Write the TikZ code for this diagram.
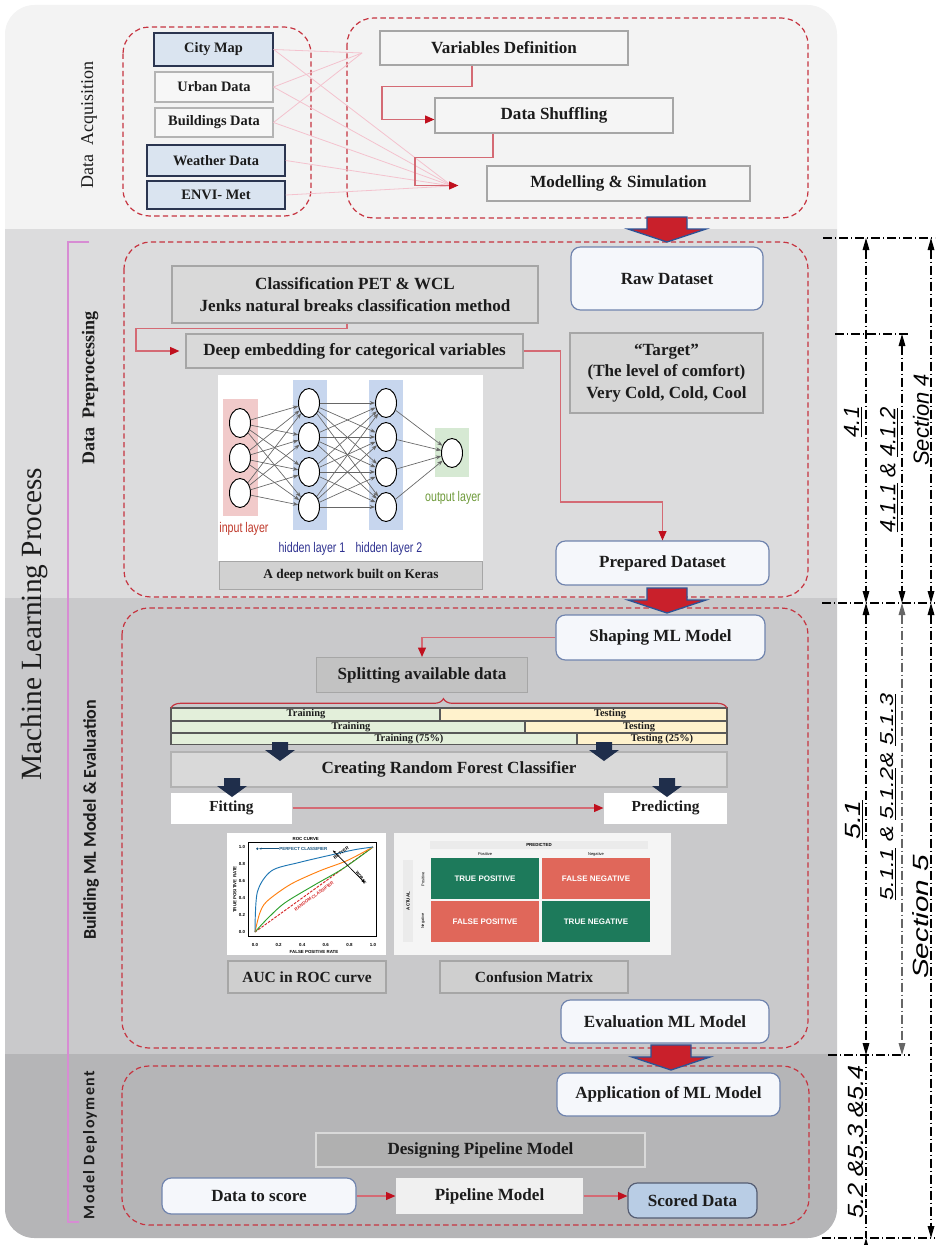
\documentclass[tikz,border=0pt]{standalone}
\usepackage{graphicx}
\usepackage{fontspec}
\setmainfont{Liberation Serif}
\setsansfont{Liberation Sans}
\newfontfamily\calibsf{Carlito}
\newfontfamily\narrowsf[FakeStretch=0.76]{Liberation Sans}
\usetikzlibrary{arrows.meta,shapes.geometric,decorations.pathreplacing}

\definecolor{bgacq}{HTML}{F3F3F3}
\definecolor{bgprep}{HTML}{DCDCDD}
\definecolor{bgbuild}{HTML}{C9C9CB}
\definecolor{bgdeploy}{HTML}{B5B5B7}
\definecolor{dashred}{HTML}{C63440}
\definecolor{linkred}{HTML}{D46A74}
\definecolor{tipred}{HTML}{C0101E}
\definecolor{fanpink}{HTML}{F4C2CE}
\definecolor{navyedge}{HTML}{2B3550}
\definecolor{keyfill}{HTML}{DAE4F0}
\definecolor{srcedge}{HTML}{B4B4B4}
\definecolor{boxedge}{HTML}{A6A6A6}
\definecolor{roundedge}{HTML}{7084AE}
\definecolor{roundfill}{HTML}{F5F7FB}
\definecolor{arrowred}{HTML}{C9202B}
\definecolor{arrowblue}{HTML}{2E5395}
\definecolor{navyarrow}{HTML}{1F2E4B}
\definecolor{bracketpink}{HTML}{D78CD3}
\definecolor{trainfill}{HTML}{E3EFDA}
\definecolor{testfill}{HTML}{FFF2CC}
\definecolor{inputpink}{HTML}{F1CACA}
\definecolor{hiddenblue}{HTML}{C7D6EE}
\definecolor{outputgreen}{HTML}{D6E9D3}
\definecolor{inputred}{HTML}{C0392B}
\definecolor{hiddennavy}{HTML}{2F3290}
\definecolor{outputolive}{HTML}{6E9A3A}
\definecolor{cmgreen}{HTML}{1D7A5B}
\definecolor{cmred}{HTML}{E0675A}
\definecolor{scoredfill}{HTML}{B9CDE5}
\definecolor{inkgray}{HTML}{1C1C1C}
\definecolor{rocblue}{HTML}{1F77B4}
\definecolor{rocorange}{HTML}{FF7F0E}
\definecolor{rocgreen}{HTML}{2CA02C}
\definecolor{rocred}{HTML}{D62728}

\tikzset{
  wh/.style 2 args={minimum width=#1*0.75pt, minimum height=#2*0.75pt},
  srcbox/.style={draw=srcedge, fill=white!97!black, line width=0.8, inner sep=0,
    text=inkgray, font=\fontsize{10.8}{12}\selectfont\bfseries},
  keybox/.style={srcbox, draw=navyedge, fill=keyfill, line width=1.1},
  stepbox/.style={draw=boxedge, line width=0.9, inner sep=0, align=center, text=inkgray,
    font=\fontsize{12.8}{16}\selectfont\bfseries},
  databox/.style={stepbox, draw=roundedge, fill=roundfill, rounded corners=7},
  dashframe/.style={draw=dashred, line width=0.9, dash pattern=on 4pt off 2.5pt, rounded corners=20},
  flow/.style={draw=linkred, line width=0.8, -{Triangle[length=7pt,width=6pt,color=tipred]}},
  fanline/.style={draw=fanpink, line width=0.6},
  bigarrow/.style={fill=arrowred, draw=arrowblue, line width=1},
  neuron/.style={ellipse, draw, fill=white, line width=0.7, inner sep=0, wh={21}{29}},
  synapse/.style={draw=black!60, line width=0.5, -{Stealth[length=4pt,width=3pt]}},
  bar/.style={draw=black!65, line width=0.9},
  bartext/.style={inner sep=0, text=inkgray, font=\fontsize{7.8}{8}\selectfont\bfseries},
  sidelabel/.style={rotate=90, inner sep=0, text=inkgray},
  dimline/.style={line width=0.8, dash pattern=on 7pt off 2pt on 1pt off 2pt},
  dimtips/.style={{Triangle[length=9pt,width=5pt]}-{Triangle[length=9pt,width=5pt]}},
  dimtext/.style={rotate=90, inner sep=0, font=\sffamily\itshape\fontsize{16.5}{18}\selectfont},
  rocnote/.style={inner sep=0, font=\sffamily\bfseries\fontsize{3.3}{3.5}\selectfont},
  cmcell/.style={inner sep=0, wh={108}{41}, text=white, font=\sffamily\bfseries\fontsize{6}{7}\selectfont},
}

\begin{document}
\begin{tikzpicture}[x=0.75pt,y=0.75pt,yscale=-1]
\useasboundingbox (0,0) rectangle (935,1245);

%Shape: background bands
\begin{scope}
  \clip[rounded corners=22] (5,5) rectangle (837,1238);
  \fill[bgacq] (0,0) rectangle (840,229);
  \fill[bgprep] (0,229) rectangle (840,598);
  \fill[bgbuild] (0,598) rectangle (840,1054);
  \fill[bgdeploy] (0,1054) rectangle (840,1240);
\end{scope}

%Shape: dashed frames
\draw[dashframe] (123,27) rectangle (311,216);
\draw[dashframe] (347,18) rectangle (808,218);
\draw[dashframe] (124,242) rectangle (808,597);
\draw[dashframe] (122,608) rectangle (808,1048);
\draw[dashframe] (122,1066) rectangle (809,1225);

% Text Node: side titles
\node[sidelabel, font=\fontsize{22}{22}\selectfont] (mlp) at (34,624) {Machine Learning Process};
\node[sidelabel, font=\fontsize{13.5}{14}\selectfont] (acq) at (89,125) {Data\ \ Acquisition};
\node[sidelabel, font=\fontsize{13.5}{14}\selectfont\bfseries] (prep) at (90,388) {Data\ \ Preprocessing};
\node[sidelabel, font=\calibsf\fontsize{13.5}{14}\selectfont\bfseries] (build) at (91,820) {Building ML Model \& Evaluation};
\node[sidelabel, font=\calibsf\addfontfeature{LetterSpace=9}\fontsize{12}{14}\selectfont\bfseries] (deploy) at (90,1145) {Model Deployment};

%Straight Lines: pink bracket
\draw[bracketpink, line width=1.2] (89,242) -- (68,242) -- (68,1222) -- (79,1222);

% Data acquisition
\node[keybox, wh={119}{33}] (citymap) at (213.5,49.5) {City Map};
\node[srcbox, wh={118}{30}] (urban) at (214,87) {Urban Data};
\node[srcbox, wh={118}{29}] (buildings) at (214,122.5) {Buildings Data};
\node[keybox, wh={138}{31}] (weather) at (216,160.5) {Weather Data};
\node[keybox, wh={138}{28}] (envimet) at (216,195) {ENVI- Met};

\node[stepbox, fill=white!96!black, wh={248}{34}] (vardef) at (504,48) {Variables Definition};
\node[stepbox, fill=white!96!black, wh={238}{35}] (shuffle) at (554,115.5) {Data Shuffling};
\node[stepbox, fill=white!96!black, wh={263}{35}] (modelling) at (618.5,183.5) {Modelling \& Simulation};

%Straight Lines: sources fanning out
\coordinate (fanA) at (362,53);
\coordinate (fanB) at (452,186);
\foreach \s in {citymap,urban,buildings} \draw[fanline] (\s.east) -- (fanA);
\foreach \s in {citymap,urban,buildings,weather,envimet} \draw[fanline] (\s.east) -- (fanB);

\draw[flow] ([shift={(-32,0)}]vardef.south) -- ++(0,21) -- ++(-90,0) |- ([shift={(0,4)}]shuffle.west);
\draw[flow] ([shift={(-61,0)}]shuffle.south) -- ++(0,24) -- ++(-78,0) |- ([shift={(-28,2)}]modelling.west);

% Data preprocessing
\node[stepbox, fill=black!15, wh={366}{57}] (classif) at (355,294.5) {Classification PET \& WCL\\Jenks natural breaks classification method};
\node[stepbox, fill=black!15, wh={337}{34}] (deepemb) at (354.5,351) {Deep embedding for categorical variables};
\node[databox, wh={192}{63}] (rawdata) at (667,278.5) {Raw Dataset};
\node[stepbox, fill=black!16, wh={193}{80}] (target) at (666.5,373) {“Target”\\(The level of comfort)\\Very Cold, Cold, Cool};
\node[databox, wh={213}{44}] (prepared) at (662.5,563) {Prepared Dataset};

\draw[flow] ([shift={(-8,0)}]classif.south) -- ++(0,5) -- ++(-211,0) |- ([shift={(-6,0)}]deepemb.west);
\draw[flow] (deepemb.east) -- ++(37,0) -- ++(0,151) -| (prepared.north);

%Shape: deep network panel
\fill[white] (218,375) rectangle (483,561);
\fill[inputpink] (223,399) rectangle (258,516);
\fill[hiddenblue] (293,380) rectangle (327,530);
\fill[hiddenblue] (369,380) rectangle (403,530);
\fill[outputgreen] (435,428) rectangle (469,477);
\foreach \i/\y in {1/423,2/458,3/493} \node[neuron] (in\i) at (240,\y) {};
\foreach \i/\y in {1/403,2/437,3/472,4/507} {
  \node[neuron] (ha\i) at (309,\y) {};
  \node[neuron] (hb\i) at (386,\y) {};
}
\node[neuron] (out) at (452,453) {};
\foreach \i in {1,2,3} \foreach \j in {1,...,4} \draw[synapse] (in\i) -- (ha\j);
\foreach \i in {1,...,4} \foreach \j in {1,...,4} \draw[synapse] (ha\i) -- (hb\j);
\foreach \i in {1,...,4} \draw[synapse] (hb\i) -- (out);
\node[inner sep=0, text=inputred, font=\narrowsf\fontsize{10.5}{12}\selectfont] (inlbl) at (244,529) {input layer};
\node[inner sep=0, text=hiddennavy, font=\narrowsf\fontsize{10.5}{12}\selectfont] (halbl) at (312,549) {hidden layer 1};
\node[inner sep=0, text=hiddennavy, font=\narrowsf\fontsize{10.5}{12}\selectfont] (hblbl) at (389,549) {hidden layer 2};
\node[inner sep=0, text=outputolive, font=\narrowsf\fontsize{10.5}{12}\selectfont] (outlbl) at (453,498) {output layer};
\node[stepbox, fill=black!18, wh={263}{28}, font=\fontsize{10}{12}\selectfont\bfseries] (keras) at (351,575.5) {A deep network built on Keras};

% Building ML model
\node[databox, wh={209}{45}] (shaping) at (660.5,637.5) {Shaping ML Model};
\node[stepbox, fill=black!24, wh={211}{35}] (splitting) at (422,675) {Splitting available data};
\draw[flow] (shaping.west) -| (splitting.north);

%Shape: train/test splits
\foreach \y/\h/\a in {708/13/440, 721/12/525, 733/11.5/577} {
  \draw[bar, fill=trainfill] (171,\y) rectangle (\a,\y+\h);
  \draw[bar, fill=testfill] (\a,\y) rectangle (727,\y+\h);
}
\node[bartext] (trainA) at (306,714.5) {Training};
\node[bartext] (testA) at (610,714.5) {Testing};
\node[bartext] (trainB) at (351,727) {Training};
\node[bartext] (testB) at (639,727) {Testing};
\node[bartext] (trainC) at (409,739) {Training (75\%)};
\node[bartext] (testC) at (662,739) {Testing (25\%)};
\draw[dashred, line width=0.9, decorate, decoration={brace, amplitude=7pt, aspect=0.49}] (171,708) -- (727,708);

\node[stepbox, fill=black!15, draw=black!30, wh={556}{35}] (forest) at (449,769.5) {Creating Random Forest Classifier};
\node[stepbox, fill=white, draw=none, wh={121}{31}, font=\fontsize{11.5}{14}\selectfont\bfseries] (fitting) at (231.5,808) {Fitting};
\node[stepbox, fill=white, draw=none, wh={123}{31}, font=\fontsize{11.5}{14}\selectfont\bfseries] (predicting) at (665.5,808) {Predicting};
\draw[flow] (fitting) -- (predicting);

%Shape: small dark arrows
\foreach \x/\y in {280/742, 604/742, 232/778, 667/778}
  \fill[navyarrow] (\x-8,\y) -- (\x+8,\y) -- (\x+8,\y+8) -- (\x+15,\y+8) -- (\x,\y+19) -- (\x-15,\y+8) -- (\x-8,\y+8) -- cycle;

%Shape: ROC curve
\fill[white] (227,833) rectangle (386,955);
\begin{scope}[shift={(255,932)}, xscale=118, yscale=-85]
  \draw[line width=0.5] (-0.06,-0.05) rectangle (1.03,1.05);
  \foreach \t in {0.0,0.2,0.4,0.6,0.8,1.0} {
    \node[rocnote] at (-0.11,\t) {\t};
    \node[rocnote] at (\t,-0.15) {\t};
  }
  \node[rocnote] (roctitle) at (0.43,1.1) {ROC CURVE};
  \node[rocnote] (rocx) at (0.5,-0.24) {FALSE POSITIVE RATE};
  \node[rocnote, rotate=90] (rocy) at (-0.17,0.5) {TRUE POSITIVE RATE};
  \draw[rocred, line width=0.7, dash pattern=on 2pt off 1pt] (0,0) -- (1,1);
  \draw[rocgreen, line width=0.7] plot[smooth] coordinates {(0,0) (0.1,0.15) (0.25,0.34) (0.5,0.55) (0.75,0.75) (1,1)};
  \draw[rocorange, line width=0.7] plot[smooth] coordinates {(0,0) (0.04,0.22) (0.1,0.36) (0.3,0.56) (0.55,0.72) (0.78,0.84) (1,1)};
  \draw[rocblue, line width=0.7] plot[smooth] coordinates {(0,0) (0.02,0.47) (0.14,0.72) (0.38,0.82) (0.72,0.93) (0.85,0.97) (1,1)};
  \node[circle, fill=rocblue!70!black, inner sep=0.7pt] (perfect) at (0.02,0.98) {};
  \node[rocnote, text=rocblue!70!black] (perfectlbl) at (0.41,0.98) {PERFECT CLASSIFIER};
  \draw[rocblue!70!black, line width=0.5, -{Stealth[length=2pt]}] (perfectlbl.west) -- (perfect.east);
  \draw[line width=0.5, {Stealth[length=2.5pt]}-{Stealth[length=2.5pt]}] (0.66,0.96) -- (0.93,0.58);
  \node[rocnote, rotate=35] (better) at (0.73,0.93) {BETTER};
  \node[rocnote, rotate=-55, font=\sffamily\bfseries\fontsize{3}{3}\selectfont] (worse) at (0.9,0.64) {WORSE};
  \node[rocnote, text=rocred, rotate=36] (randomlbl) at (0.5,0.42) {RANDOM CLASSIFIER};
\end{scope}

%Shape: confusion matrix
\fill[white!96!black] (394,833) rectangle (671,955);
\fill[black!8] (430,841) rectangle (648,849);
\node[rocnote] (predicted) at (539,845) {PREDICTED};
\node[rocnote, font=\sffamily\fontsize{3}{3}\selectfont] (colpos) at (485,854) {Positive};
\node[rocnote, font=\sffamily\fontsize{3}{3}\selectfont] (colneg) at (596,854) {Negative};
\fill[black!8] (403,860) rectangle (413,942);
\node[rocnote, rotate=90] (actual) at (408,901) {ACTUAL};
\node[rocnote, rotate=90, font=\sffamily\fontsize{3}{3}\selectfont] (rowpos) at (423,879) {Positive};
\node[rocnote, rotate=90, font=\sffamily\fontsize{3}{3}\selectfont] (rowneg) at (423,921) {Negative};
\node[cmcell, fill=cmgreen] (tp) at (485,878.5) {TRUE POSITIVE};
\node[cmcell, fill=cmred] (fn) at (596,878.5) {FALSE NEGATIVE};
\node[cmcell, fill=cmred] (fp) at (485,921.5) {FALSE POSITIVE};
\node[cmcell, fill=cmgreen] (tn) at (596,921.5) {TRUE NEGATIVE};

\node[stepbox, fill=black!19, wh={158}{32}, font=\fontsize{11.6}{14}\selectfont\bfseries] (auc) at (307,977) {AUC in ROC curve};
\node[stepbox, fill=black!19, wh={188}{32}, font=\fontsize{11.6}{14}\selectfont\bfseries] (cmcap) at (534,977) {Confusion Matrix};
\node[databox, wh={208}{43}] (evaluation) at (665,1021.5) {Evaluation ML Model};

% Model deployment
\node[databox, wh={223}{43}] (application) at (668.5,1094.5) {Application of ML Model};
\node[stepbox, fill=black!31, draw=black!15, wh={329}{34}] (designing) at (480.5,1150) {Designing Pipeline Model};
\node[databox, wh={194}{36}] (datascore) at (259,1196) {Data to score};
\node[stepbox, fill=black!6, draw=none, wh={187}{36}] (pipeline) at (489.5,1196) {Pipeline Model};
\node[databox, fill=scoredfill, draw=navyedge!80, wh={129}{35}] (scored) at (692.5,1200.5) {Scored Data};
\draw[flow] (datascore.east) -- (pipeline.west);
\draw[flow] (pipeline.east) -- (pipeline.east -| scored.west);

%Shape: block arrows between stages
\foreach \x/\y in {667/217, 667/588, 671/1045}
  \draw[bigarrow] (\x-20,\y) -- (\x+20,\y) -- (\x+20,\y+12) -- (\x+39,\y+12) -- (\x,\y+25) -- (\x-39,\y+12) -- (\x-20,\y+12) -- cycle;

%Straight Lines: section dimensions
\draw[dimline] (823,238) -- (935,238);
\draw[dimline] (835,334) -- (910,334);
\draw[dimline] (822,603) -- (935,603);
\draw[dimline] (828,1055) -- (910,1055);
\draw[dimline] (822,1238) -- (935,1238);
\draw[dimline, dimtips] (866,238) -- (866,603);
\draw[dimline, dimtips] (866,603) -- (866,1055);
\draw[dimline] (866,1055) -- (866,1238);
\draw[dimline, -{Triangle[length=9pt,width=5pt]}] (866,1250) -- (866,1238);
\draw[dimline, dimtips] (902,334) -- (902,603);
\draw[dimline, dimtips, black!60] (902,603) -- (902,1055);
\draw[dimline, dimtips] (931,238) -- (931,603);
\draw[dimline, dimtips] (931,603) -- (931,1238);

% Text Node: dimension labels
\node[dimtext] (d41) at (853,422) {\underline{4.1}};
\node[dimtext] (d412) at (889,470) {\underline{4.1.1} \& \underline{4.1.2}};
\node[dimtext] (sec4) at (921,420) {Section 4};
\node[dimtext] (d51) at (854,820) {\scalebox{1.3}[1]{\underline{5.1}}};
\node[dimtext, font=\sffamily\itshape\fontsize{14}{15}\selectfont] (d513) at (888,797) {\scalebox{1.25}[1]{\underline{5.1.1} \& \underline{5.1.2}\& \underline{5.1.3}}};
\node[dimtext] (sec5) at (921,917) {\scalebox{1.35}[1]{Section 5}};
\node[dimtext] (d54) at (856,1142) {\scalebox{1.15}[1]{5.2 \&5.3 \&5.4}};

\end{tikzpicture}
\end{document}
